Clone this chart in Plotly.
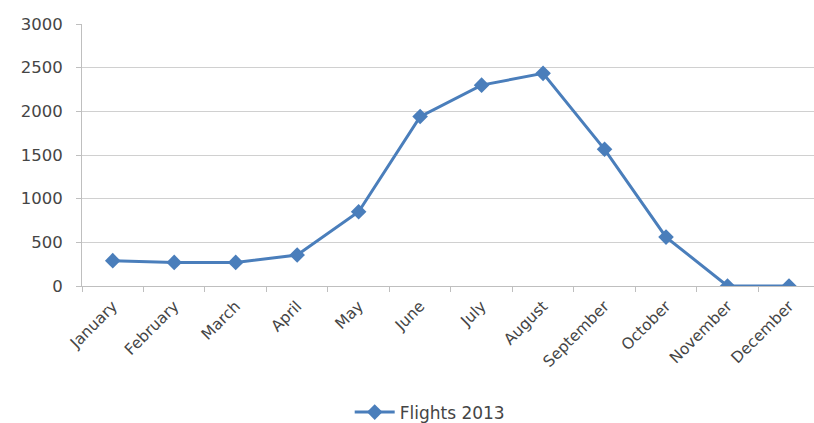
import plotly.graph_objects as go

months = ["January", "February", "March", "April", "May", "June", "July",
          "August", "September", "October", "November", "December"]
flights_2013 = [290, 270, 270, 355, 850, 1940, 2300, 2435, 1565, 560, 0, 0]
y_ticks = [0, 500, 1000, 1500, 2000, 2500, 3000]

blue = "#4A7EBB"
grid = "#D0D0D0"
axis_gray = "#BFBFBF"
text_color = "#454545"
font_family = "DejaVu Sans, sans-serif"

fig = go.Figure()
fig.add_trace(go.Scatter(
    x=months,
    y=flights_2013,
    mode="lines+markers",
    name="Flights 2013",
    line=dict(color=blue, width=3),
    marker=dict(symbol="diamond", size=12, color=blue),
))

fig.update_layout(
    width=814, height=423,
    margin=dict(l=82, r=0, t=24, b=137, autoexpand=False),
    paper_bgcolor="white", plot_bgcolor="white",
    font=dict(family=font_family, size=15, color=text_color),
    showlegend=True,
    legend=dict(orientation="h", x=0.475, xanchor="center", y=-0.483, yanchor="middle",
                font=dict(size=17, color=text_color), itemwidth=40),
    xaxis=dict(
        type="category",
        categoryorder="array",
        categoryarray=months,
        range=[-0.5, 11.407],
        automargin=False,
        tickangle=-45,
        tickson="boundaries",
        showgrid=False,
        showline=True, linecolor=axis_gray, linewidth=1,
        ticks="outside", ticklen=5, tickcolor=axis_gray,
        ticklabelstandoff=4,
        zeroline=False,
        tickfont=dict(size=15.5, color=text_color),
    ),
    yaxis=dict(
        range=[0, 3000],
        automargin=False,
        tickmode="array",
        tickvals=y_ticks,
        showgrid=True, gridcolor=grid, gridwidth=1,
        showline=True, linecolor=axis_gray, linewidth=1,
        ticks="outside", ticklen=5, tickcolor=axis_gray,
        ticklabelstandoff=10,
        zeroline=False,
        tickfont=dict(size=16.5, color=text_color),
    ),
)

fig.write_html("out.html")
